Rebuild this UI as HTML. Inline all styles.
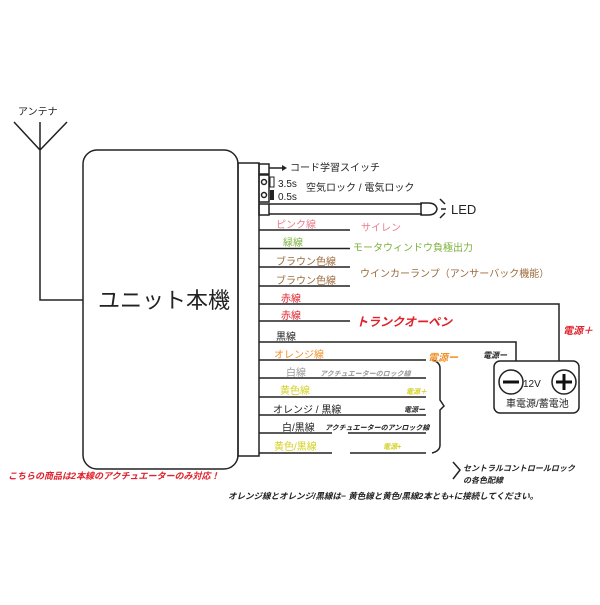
<!DOCTYPE html>
<html><head><meta charset="utf-8"><style>
body{margin:0;background:#fff;width:600px;height:600px;overflow:hidden}
svg text{font-family:"Liberation Sans","Noto Sans CJK JP",sans-serif}
.i{font-style:italic;font-weight:bold}
</style></head><body>
<svg width="600" height="600" viewBox="0 0 600 600" xmlns="http://www.w3.org/2000/svg">
<g stroke="#222" stroke-width="1.5" fill="none">
<path d="M14 122 L40 150 L67 122 M40 122 L40 300 L83 300"/>
<rect x="83" y="150" width="155" height="319" rx="14"/>
<rect x="238" y="163" width="21" height="293"/>
<rect x="259" y="164" width="10" height="10"/>
<path d="M269 168 H282"/>
<rect x="259" y="175" width="10" height="27"/>
<circle cx="264" cy="182" r="2.5"/><circle cx="264" cy="195" r="2.5"/>
<rect x="259" y="204" width="10" height="11"/>
<path d="M269 204 H422 M269 214 H422"/>
<path d="M421 203 L428 203 Q436 203 437 209 Q436 215 428 215 L421 215Z"/>
<path d="M440 199 L445 204 M441 209 L446 209 M440 218 L445 213"/>
<path d="M259 230 H350 M259 248.5 H350 M259 267 H350 M259 286 H350"/>
<path d="M259 304 H559 V361"/>
<path d="M259 321 H350"/>
<path d="M259 342 H516 V361"/>
<path d="M259 360 H426 M259 378 H426 M259 397 H426 M259 415 H426 M259 433 H332 M348 433 H426 M259 453 H332 M350 453 H426"/>
<path d="M432 360 Q440 362 440 368 V400 L444 406 L440 410 V445 Q440 451 432 453"/>
<path d="M453 462 L460 470 L453 479"/>
<rect x="494" y="361" width="85" height="52" rx="6"/>
<circle cx="511" cy="382" r="12"/><circle cx="564" cy="382" r="12"/>
</g>
<path d="M282 165 L287 168 L282 171Z" fill="#222"/>
<rect x="270" y="177" width="4" height="10" fill="none" stroke="#222" stroke-width="1"/>
<rect x="270" y="190" width="4" height="10" fill="#222"/>
<g stroke="#111" stroke-width="3"><path d="M503 382 H519 M556 382 H572 M564 374 V390"/></g>
<g font-size="10" fill="#222">
<text x="18" y="115">アンテナ</text>
<text x="290" y="171">コード学習スイッチ</text>
<text x="278" y="187">3.5s</text>
<text x="278" y="200">0.5s</text>
<text x="306" y="191">空気ロック / 電気ロック</text>
<text x="451" y="214" font-size="13">LED</text>
<text x="276" y="228" fill="#e87c8c">ピンク線</text>
<text x="361" y="231" fill="#e87c8c">サイレン</text>
<text x="283" y="246" fill="#7ab03a">緑線</text>
<text x="353" y="251" fill="#7ab03a">モータウィンドウ負極出力</text>
<text x="276" y="265" fill="#9b6a3a">ブラウン色線</text>
<text x="276" y="284" fill="#9b6a3a">ブラウン色線</text>
<text x="360" y="277" fill="#9b6a3a">ウインカーランプ（アンサーバック機能）</text>
<text x="281" y="302" fill="#e0202a">赤線</text>
<text x="281" y="319" fill="#e0202a">赤線</text>
<text x="356" y="326" class="i" font-size="12" fill="#e0202a">トランクオーペン</text>
<text x="276" y="340">黒線</text>
<text x="274" y="358" fill="#f0902a">オレンジ線</text>
<text x="428" y="361" class="i" fill="#f0902a">電源ー</text>
<text x="483" y="358" class="i" font-size="8">電源ー</text>
<text x="563" y="334" class="i" fill="#e0202a">電源＋</text>
<text x="523" y="387">12V</text>
<text x="506" y="407">車電源/蓄電池</text>
<text x="286" y="376" fill="#999">白線</text>
<text x="320" y="376" class="i" font-size="7" fill="#999">アクチュエーターのロック線</text>
<text x="280" y="394" fill="#d4d020">黄色線</text>
<text x="406" y="394" class="i" font-size="7" fill="#d4d020">電源＋</text>
<text x="273" y="413">オレンジ / 黒線</text>
<text x="404" y="412" class="i" font-size="7">電源ー</text>
<text x="282" y="431">白/黒線</text>
<text x="325" y="430" class="i" font-size="7">アクチュエーターのアンロック線</text>
<text x="274" y="450" fill="#d4d020">黄色/黒線</text>
<text x="383" y="449" class="i" font-size="7" fill="#d4d020">電源+</text>
<text x="463" y="471" class="i" font-size="8">セントラルコントロールロック</text>
<text x="463" y="483" class="i" font-size="8">の各色配線</text>
<text x="8" y="479" class="i" font-size="9" fill="#e0202a">こちらの商品は2本線のアクチュエーターのみ対応！</text>
<text x="228" y="499" class="i" font-size="8.5">オレンジ線とオレンジ/黒線は−  黄色線と黄色/黒線2本とも+に接続してください。</text>
<text x="98" y="308" font-size="22">ユニット本機</text>
</g>
</svg>
</body></html>
